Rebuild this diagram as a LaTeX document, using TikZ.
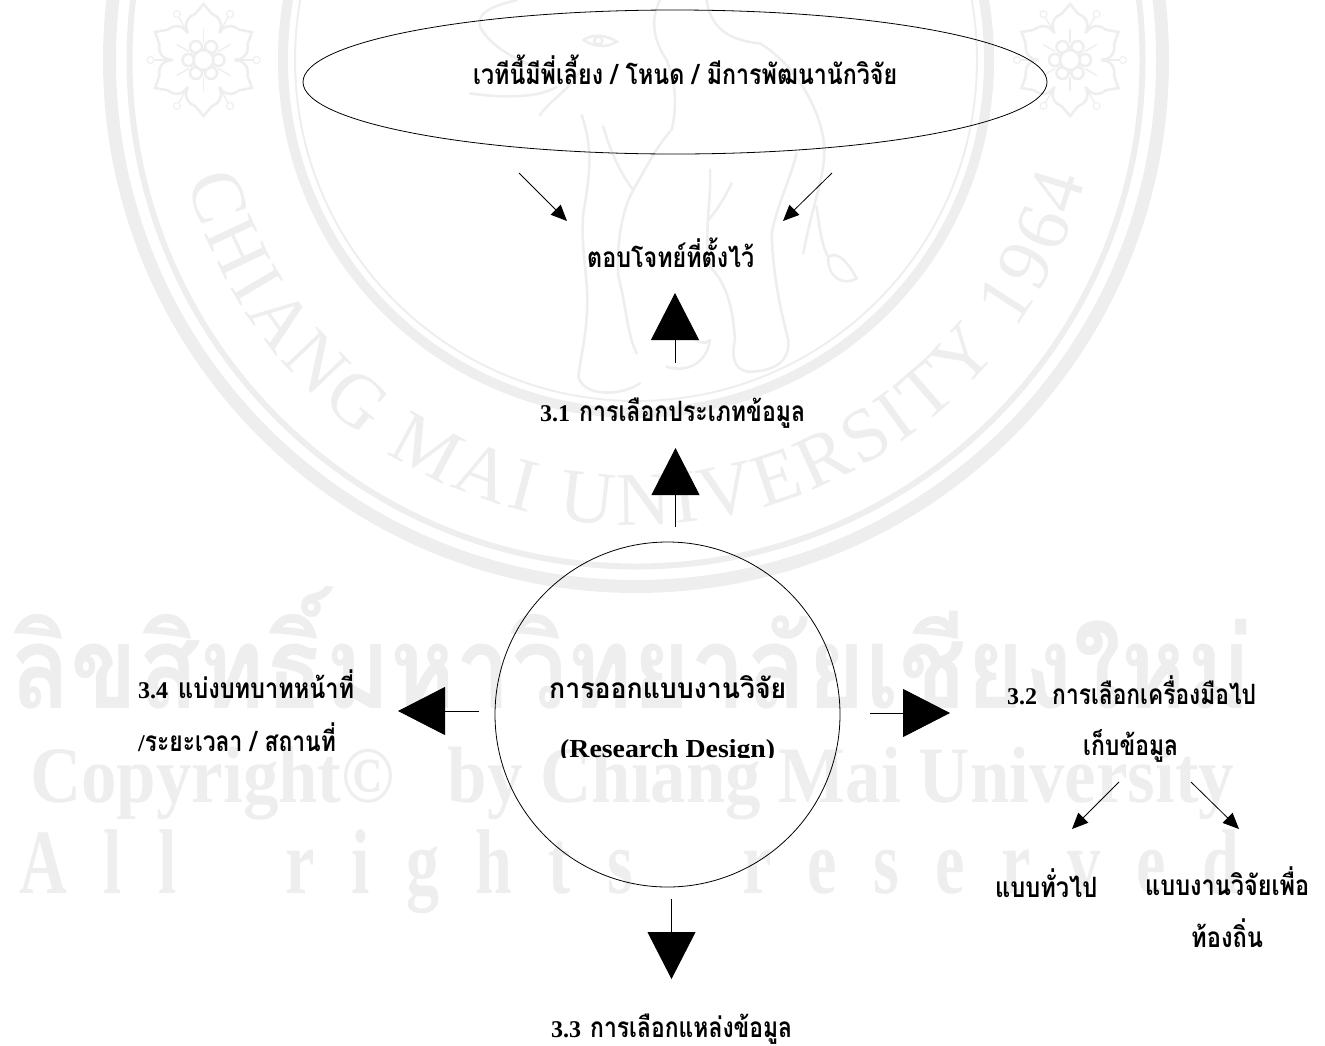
\documentclass[tikz,border=0pt]{standalone}
\usepackage{fontspec}
\usepackage{graphicx}
\usetikzlibrary{arrows.meta,shapes.geometric,decorations.text}
\setmainfont{Liberation Serif}
\newfontfamily\thaifont[Script=Thai]{Loma}
\newfontfamily\wmfont[FakeStretch=0.72]{Liberation Serif}
\definecolor{wm}{HTML}{EEEEEE}
\newcommand\fitw[2]{\resizebox{#1}{\height}{#2}}
\newcommand\tha[2]{\fitw{#1}{\fontsize{28}{28}\selectfont\thaifont\bfseries #2}}
\newcommand\lat[1]{{\fontsize{24}{24}\selectfont\bfseries #1}}
\newcommand\sealfont{\fontsize{76}{76}\selectfont\color{wm}}
\newcommand\flowermark{%
  \foreach \a in {30,90,150,210,270,330}{
    \draw[wmline] (\a-30:31pt) .. controls (\a-30:38pt) and (\a-24:46pt) .. (\a-10:47pt)
       -- (\a:56pt) -- (\a+10:47pt) .. controls (\a+24:46pt) and (\a+30:38pt) .. (\a+30:31pt);
    \draw[wmline,line width=1.4pt] (\a+30:31pt) -- (\a+30:49pt);
    \draw[wmline,line width=1.1pt] (\a+30:53pt) circle[radius=3.5pt];
    \draw[wmline,line width=1.4pt] (\a:17pt) -- (\a:31pt);
    \draw[wmline] (\a+30:15pt) circle[radius=6pt];
  }
  \draw[wmline,fill=white] (0,0) circle[radius=10pt];
}
\tikzset{
  wmline/.style={draw=wm,line width=2.6pt},
  wmtext/.style={text=wm,inner sep=0pt,anchor=base west},
  lbl/.style={inner sep=0pt,anchor=base west,text=black},
  shapeline/.style={draw=black,line width=0.8pt,inner sep=0pt},
  bigarrow/.style={draw=black,line width=0.8pt,-{Triangle[length=47pt,width=48pt]}},
  smallarrow/.style={draw=black,line width=0.8pt,-{Triangle[length=16pt,width=14pt]}}
}
\begin{document}
\begin{tikzpicture}[x=1pt,y=-1pt]
\useasboundingbox (0,0) rectangle (1325,1045);
\begin{scope}
\clip (0,0) rectangle (1325,1045);
% seal
\coordinate (seal) at (636,60);
\draw[draw=wm,line width=13pt] (seal) circle[radius=526.5pt];
\draw[draw=wm,line width=6pt] (seal) circle[radius=506.5pt];
\draw[draw=wm,line width=10pt] (seal) circle[radius=353pt];
\draw[draw=wm,line width=2pt] (seal) circle[radius=341pt];
\path[decorate,decoration={text along path,text align={fit to path},
   text={|\sealfont|CHIANG MAI UNIVERSITY 1964}}]
   ([shift={(195:465pt)}]seal) arc[start angle=195,end angle=345,radius=465pt];
\begin{scope}[shift={(203.5,60)}]\flowermark\end{scope}
\begin{scope}[shift={(1070,60)}]\flowermark\end{scope}
% elephant
\begin{scope}[shift={(470,0)},x=0.3333pt,y=-0.3333pt,draw=wm,line width=2.6pt,line cap=round]
\draw (140,0) .. controls (60,20) and (20,40) .. (30,80) .. controls (60,140) and (150,190) .. (240,215);
\draw (0,280) .. controls (60,290) and (200,300) .. (260,260);
\draw (210,345) .. controls (240,300) and (300,270) .. (335,205);
\draw (340,120) .. controls (370,100) and (410,105) .. (440,125) .. controls (410,145) and (370,140) .. (340,120);
\draw (385,122) circle[radius=4pt];
\draw (570,0) .. controls (540,60) and (550,120) .. (590,180) .. controls (620,250) and (620,330) .. (605,390);
\draw (710,0) .. controls (720,70) and (760,120) .. (870,130) .. controls (970,190) and (1050,320) .. (1062,430) .. controls (1070,520) and (1030,600) .. (1000,760);
\draw (1040,620) .. controls (1050,700) and (1060,750) .. (1075,770);
\draw (1075,770) .. controls (1110,750) and (1140,800) .. (1160,835) .. controls (1120,860) and (1070,830) .. (1075,770);
\draw (335,345) .. controls (370,450) and (360,520) .. (340,640) .. controls (330,750) and (360,850) .. (350,950) .. controls (345,1030) and (330,1080) .. (325,1130) .. controls (340,1190) and (450,1190) .. (510,1150);
\draw (400,380) .. controls (420,450) and (450,520) .. (490,570) .. controls (450,640) and (440,750) .. (445,830) .. controls (470,920) and (470,1000) .. (500,1060);
\draw (490,570) .. controls (530,500) and (560,440) .. (600,395);
\draw (720,510) .. controls (725,600) and (700,700) .. (720,800) .. controls (780,860) and (790,950) .. (795,1020) .. controls (780,1080) and (800,1120) .. (850,1115) .. controls (920,1110) and (960,1080) .. (955,1020) .. controls (940,960) and (910,850) .. (905,700) .. controls (920,620) and (960,540) .. (980,460);
\draw (715,660) .. controls (750,620) and (770,580) .. (785,550);
\draw (640,1000) .. controls (680,1020) and (700,1040) .. (720,1020);
\draw (590,1100) .. controls (650,1120) and (710,1090) .. (720,1020);
\end{scope}
% watermark text
\node[wmtext] (wm1) at (10,708) {\fitw{1242pt}{\fontsize{115}{115}\selectfont\thaifont\bfseries ลิขสิทธิ์มหาวิทยาลัยเชียงใหม่}};
\node[wmtext] (wm2) at (30,802) {\fitw{1204pt}{\fontsize{80}{80}\selectfont\wmfont\bfseries Copyright©\ \ \ by Chiang Mai University}};
\node[wmtext] (wm3) at (19,893) {\fontsize{92}{92}\selectfont\wmfont\bfseries\makebox[1220pt][s]{A\hfill l\hfill l\hfill\hfill\hfill r\hfill i\hfill g\hfill h\hfill t\hfill s\hfill\hfill\hfill r\hfill e\hfill s\hfill e\hfill r\hfill v\hfill e\hfill d}};
\end{scope}
% shapes
\node[shapeline,ellipse,minimum width=744pt,minimum height=144pt] (venue) at (675,82) {};
\node[shapeline,circle,minimum size=345pt] (design) at (667.5,714.5) {};
% labels
\node[lbl] (venuetext) at (473,84) {\tha{424pt}{เวทีนี้มีพี่เลี้ยง / โหนด / มีการพัฒนานักวิจัย}};
\node[lbl] (answer) at (587,267) {\tha{167pt}{ตอบโจทย์ที่ตั้งไว้}};
\node[lbl] (s31) at (540,421) {\lat{3.1}\hspace{9pt}\tha{226pt}{การเลือกประเภทข้อมูล}};
\node[lbl] (dth) at (549,698) {\tha{237pt}{การออกแบบงานวิจัย}};
\begin{scope}
\clip (540,720) rectangle (800,757.5);
\node[lbl] (den) at (560,757) {\fitw{215pt}{\fontsize{26}{26}\selectfont\bfseries (Research Design)}};
\end{scope}
\node[lbl] (s34a) at (138,698) {\lat{3.4}\hspace{10pt}\tha{176pt}{แบ่งบทบาทหน้าที่}};
\node[lbl] (s34b) at (138,751) {\lat{/}\tha{191pt}{ระยะเวลา / สถานที่}};
\node[lbl] (s32a) at (1007,704) {\lat{3.2}\hspace{15pt}\tha{204pt}{การเลือกเครื่องมือไป}};
\node[lbl] (s32b) at (1083,755) {\tha{95pt}{เก็บข้อมูล}};
\node[lbl] (general) at (995,897) {\tha{102pt}{แบบทั่วไป}};
\node[lbl] (localA) at (1145,895) {\tha{164pt}{แบบงานวิจัยเพื่อ}};
\node[lbl] (localB) at (1191,947) {\tha{72pt}{ท้องถิ่น}};
\node[lbl] (s33) at (551,1037) {\lat{3.3}\hspace{9pt}\tha{202pt}{การเลือกแหล่งข้อมูล}};
% connector ends
\coordinate (a1s) at (519,173); \coordinate (a1e) at (567,221);
\coordinate (a2s) at (832,173); \coordinate (a2e) at (783,221);
\coordinate (a3s) at (675,363); \coordinate (a3e) at (675,293);
\coordinate (a4s) at (675.5,527); \coordinate (a4e) at (675.5,448);
\coordinate (a5s) at (478.5,711); \coordinate (a5e) at (398,711);
\coordinate (a6s) at (870,713); \coordinate (a6e) at (950,713);
\coordinate (a7s) at (671.5,899); \coordinate (a7e) at (671.5,979);
\coordinate (a8s) at (1119,782); \coordinate (a8e) at (1072,829);
\coordinate (a9s) at (1191,782); \coordinate (a9e) at (1239,829);
\draw[smallarrow] (a1s) -- (a1e);
\draw[smallarrow] (a2s) -- (a2e);
\draw[bigarrow] (a3s) -- (a3e);
\draw[bigarrow] (a4s) -- (a4e);
\draw[bigarrow] (a5s) -- (a5e);
\draw[bigarrow] (a6s) -- (a6e);
\draw[bigarrow] (a7s) -- (a7e);
\draw[smallarrow] (a8s) -- (a8e);
\draw[smallarrow] (a9s) -- (a9e);
\end{tikzpicture}
\end{document}
